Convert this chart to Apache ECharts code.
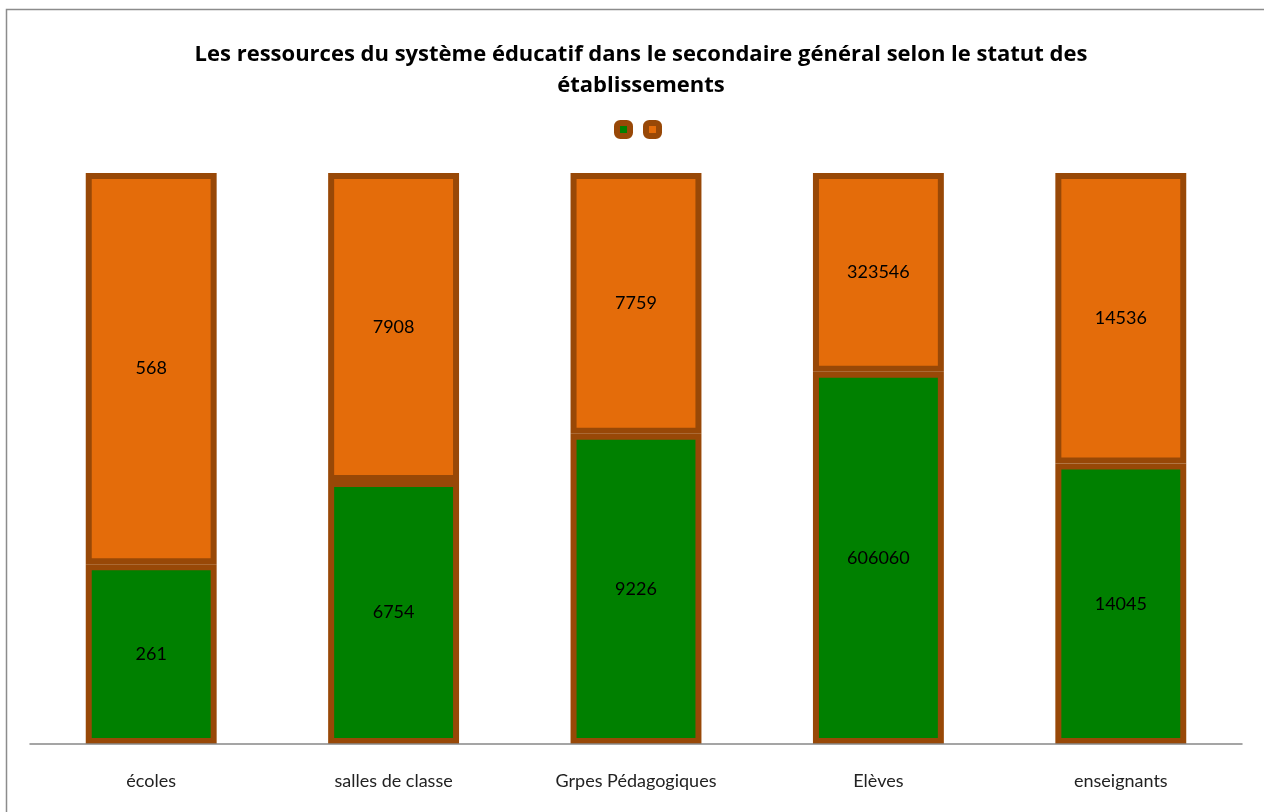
<!DOCTYPE html>
<html>
<head>
<meta charset="utf-8">
<script src="https://cdn.jsdelivr.net/npm/echarts@6/dist/echarts.min.js"></script>
<style>
  html, body { margin: 0; padding: 0; background: #fff; }
  #chart { width: 1264px; height: 812px; }
</style>
</head>
<body>
<div id="chart"></div>
<script>
const categories = ['écoles', 'salles de classe', 'Grpes Pédagogiques', 'Elèves', 'enseignants']
const publicValues = [261, 6754, 9226, 606060, 14045]
const priveValues = [568, 7908, 7759, 323546, 14536]

const barBorder = '#984807'

// parts en pourcentage pour l'empilement à 100 %
function share(values, i) {
  return values[i] / (publicValues[i] + priveValues[i]) * 100
}
const publicShare = publicValues.map((v, i) => share(publicValues, i))
const priveShare = priveValues.map((v, i) => share(priveValues, i))

const chart = echarts.init(document.getElementById('chart'))

function makeSeries(name, shares, raw, color) {
  return {
    name: name,
    type: 'bar',
    stack: 'total',
    barWidth: '54%',
    data: shares,
    itemStyle: {
      color: color,
      borderColor: barBorder,
      borderWidth: 6
    },
    label: {
      show: true,
      position: 'inside',
      color: '#000',
      fontFamily: 'Lato',
      fontSize: 18,
      formatter: (p) => String(raw[p.dataIndex])
    },
    emphasis: { disabled: true }
  }
}

chart.setOption({
  animation: false,
  title: {
    text: 'Les ressources du système éducatif dans le secondaire général selon le statut des\nétablissements',
    left: 636,
    top: 34,
    textAlign: 'center',
    textStyle: {
      fontFamily: 'Open Sans',
      fontWeight: 'bold',
      fontSize: 22,
      color: '#000',
      lineHeight: 31
    }
  },
  legend: {
    top: 115,
    left: 609,
    icon: 'roundRect',
    itemWidth: 13,
    itemHeight: 13,
    itemGap: 10,
    formatter: () => '',
    itemStyle: { borderColor: barBorder, borderWidth: 6 },
    selectedMode: false
  },
  graphic: [{
    type: 'rect',
    shape: { x: 6.5, y: 9.5, width: 1400, height: 1000 },
    style: { fill: 'none', stroke: '#8c8c8c', lineWidth: 1.5 },
    silent: true
  }],
  grid: {
    left: 30,
    right: 22,
    top: 173,
    bottom: 68
  },
  xAxis: {
    type: 'category',
    data: categories,
    axisTick: { show: false },
    axisLine: { lineStyle: { color: '#888', width: 1.5 } },
    axisLabel: {
      color: '#222',
      fontFamily: 'Lato',
      fontSize: 18,
      margin: 28
    },
    z: 5
  },
  yAxis: {
    type: 'value',
    min: 0,
    max: 100,
    show: false
  },
  series: [
    makeSeries('Public', publicShare, publicValues, '#008000'),
    makeSeries('Privé', priveShare, priveValues, '#E46C0A')
  ]
})
</script>
</body>
</html>
